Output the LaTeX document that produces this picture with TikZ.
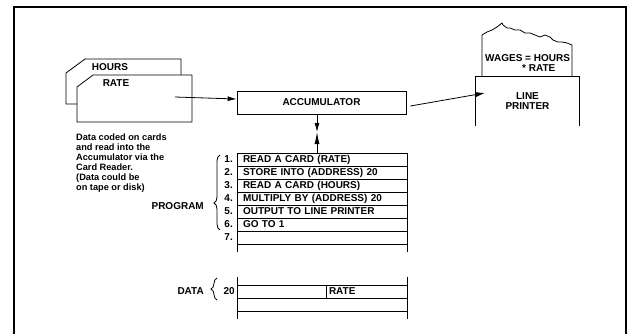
\documentclass[tikz,border=0pt]{standalone}
\usepackage{fontspec}
\setmainfont{Liberation Sans}
\usetikzlibrary{positioning,arrows.meta,decorations.pathreplacing}

\begin{document}
\begin{tikzpicture}[x=1pt, y=-1pt, node distance=0pt,
  lbl/.style = {font=\fontsize{10}{10}\selectfont\bfseries, inner sep=0pt},
  row/.style = {draw, line width=0.8pt, outer sep=0pt, minimum width=170pt, minimum height=13pt, text width=158pt, inner xsep=6pt, inner ysep=0pt, text height=7.3pt, text depth=1.8pt, align=left, font=\fontsize{10}{10}\selectfont\bfseries},
  arr/.style = {-{Latex[length=9pt,width=5pt]}, line width=0.8pt},
  brc/.style = {decorate, decoration={brace, amplitude=6pt, aspect=#1}, line width=0.8pt}]
\useasboundingbox (0,0) rectangle (631,333);
\draw[line width=2pt] (14,335) -- (14,7) -- (626,7) -- (626,335);

\draw[line width=0.8pt] (181,75) -- (181,59) -- (85,59) -- (66,73) -- (66,104) -- (77,104);
\draw[line width=0.8pt] (93,75) -- (192,75) -- (192,122) -- (77,122) -- (77,87) -- cycle;
\node[lbl] (hours) at (110,67) {HOURS};
\node[lbl] (rate) at (116,83) {RATE};
\coordinate (card) at (175,97);
\node[lbl, font=\fontsize{9.2}{10}\selectfont\bfseries, align=left, anchor=north west] (note) at (76,133.5) {Data coded on cards\\and read into the\\Accumulator via the\\Card Reader.\\(Data could be\\on tape or disk)};

\node[lbl, draw, line width=0.8pt, minimum width=169pt, minimum height=23pt] (acc) at (321.5,102.5) {ACCUMULATOR};
\draw[arr] (card) -- ([yshift=3.5pt]acc.west);

\node[row] (r1) at (322,159.5) {READ A CARD (RATE)};
\node[row, below=of r1] (r2) {STORE INTO (ADDRESS) 20};
\node[row, below=of r2] (r3) {READ A CARD (HOURS)};
\node[row, below=of r3] (r4) {MULTIPLY BY (ADDRESS) 20};
\node[row, below=of r4] (r5) {OUTPUT TO LINE PRINTER};
\node[row, below=of r5] (r6) {GO TO 1};
\node[row, below=of r6] (r7) {};
\node[lbl, left=4pt of r1] (n1) {1.};
\node[lbl, left=4pt of r2] (n2) {2.};
\node[lbl, left=4pt of r3] (n3) {3.};
\node[lbl, left=4pt of r4] (n4) {4.};
\node[lbl, left=4pt of r5] (n5) {5.};
\node[lbl, left=4pt of r6] (n6) {6.};
\node[lbl, left=4pt of r7] (n7) {7.};
\draw[line width=0.8pt] (r7.south west) -- ++(0,8) (r7.south east) -- ++(0,8);

\coordinate (mid) at (317,132);
\draw[arr] ([xshift=-4.5pt]acc.south) -- (mid);
\draw[arr, -{Latex[length=12pt,width=5pt]}] ([xshift=-5pt]r1.north) -- (mid);

\draw[brc=0.36] ([xshift=-17pt,yshift=1pt]r6.south west) -- ([xshift=-17pt,yshift=-2pt]r1.north west);
\node[lbl, anchor=east] (prog) at (204,206) {PROGRAM};

\node[row, minimum width=89pt, text width=77pt] (d1) at (281.5,291.5) {};
\node[row, right=of d1, minimum width=81pt, text width=75pt, inner xsep=3pt] (d2) {RATE};
\node[row, anchor=north west] (d3) at (d1.south west) {};
\draw[line width=0.8pt] (d1.north west) -- ++(0,-8) (d2.north east) -- ++(0,-8) (d3.south west) -- ++(0,8) (d3.south east) -- ++(0,8);
\node[lbl, left=2pt of d1] (addr) {20};
\draw[brc=0.5] ([xshift=-20pt,yshift=-2pt]d1.south west) -- ([xshift=-20pt,yshift=7pt]d1.north west);
\node[lbl, anchor=east] (data) at (204,291) {DATA};

\node[lbl, align=center, minimum width=103pt, minimum height=49pt] (prt) at (527.5,101.5) {LINE\\PRINTER};
\draw[line width=0.8pt] (prt.south west) -- (prt.north west) -- (prt.north east) -- (prt.south east);
\draw[line width=0.8pt] (482,77) -- (482,35) -- (487,32) -- (492,30) -- (497,27) -- (502,23) -- (503,25) -- (507,28) -- (510,28) -- (515,30) -- (520,30) -- (525,33) -- (530,33) -- (535,35) -- (540,37) -- (545,35) -- (550,37) -- (553,40) -- (558,42) -- (562,42) -- (567,43) -- (572,45) -- (572,77);
\node[lbl, align=left, anchor=west] (wages) at (485,63) {WAGES = HOURS\\\hspace*{37pt}* RATE};
\draw[arr] ([xshift=4pt,yshift=-3.5pt]acc.east) -- ([xshift=9pt,yshift=8.5pt]prt.west);
\end{tikzpicture}
\end{document}
